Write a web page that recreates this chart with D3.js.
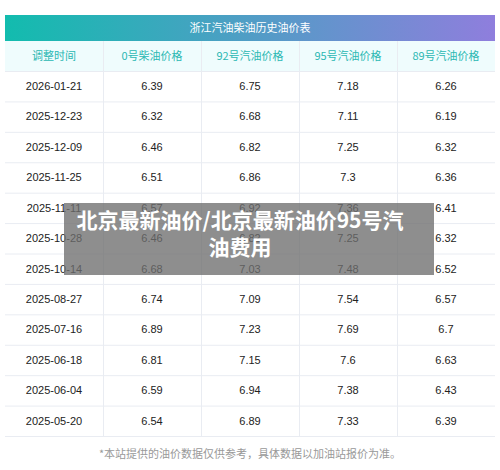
<!DOCTYPE html>
<html><head><meta charset="utf-8">
<script src="https://cdn.jsdelivr.net/npm/d3@7"></script>
<style>body{margin:0;background:#fff}</style>
</head><body>
<script>
var title = '浙江汽油柴油历史油价表';
var columns = ['调整时间', '0号柴油价格', '92号汽油价格', '95号汽油价格', '89号汽油价格'];
var dates = ['2026-01-21','2025-12-23','2025-12-09','2025-11-25','2025-11-11','2025-10-28','2025-10-14','2025-08-27','2025-07-16','2025-06-18','2025-06-04','2025-05-20'];
var diesel0 = ['6.39','6.32','6.46','6.51','6.57','6.46','6.68','6.74','6.89','6.81','6.59','6.54'];
var gas92 = ['6.75','6.68','6.82','6.86','6.92','6.82','7.03','7.09','7.23','7.15','6.94','6.89'];
var gas95 = ['7.18','7.11','7.25','7.3','7.36','7.25','7.48','7.54','7.69','7.6','7.38','7.33'];
var gas89 = ['6.26','6.19','6.32','6.36','6.41','6.32','6.52','6.57','6.7','6.63','6.43','6.39'];
var footnote = '*本站提供的油价数据仅供参考，具体数据以加油站报价为准。';
var overlay = ['北京最新油价/北京最新油价95号汽', '油费用'];

var W = 500, H = 470, left = 5, right = 495;
var font = '"Noto Sans CJK SC", "Liberation Sans", sans-serif';
var svg = d3.select('body').append('svg').attr('width', W).attr('height', H);

var defs = svg.append('defs');
var grad = defs.append('linearGradient').attr('id', 'hg');
grad.append('stop').attr('offset', '0%').attr('stop-color', '#12bcae');
grad.append('stop').attr('offset', '100%').attr('stop-color', '#8f7edd');

var x = d3.scaleBand().domain(d3.range(columns.length)).range([left, right]);
var rows = dates.map(function(d, i) { return [d, diesel0[i], gas92[i], gas95[i], gas89[i]]; });
var y = d3.scaleBand().domain(d3.range(rows.length)).range([71, 436]);

// title bar
svg.append('rect').attr('x', left).attr('y', 15).attr('width', right - left).attr('height', 26).attr('fill', 'url(#hg)');
svg.append('text').attr('x', W / 2).attr('y', 28).attr('dy', '0.35em').attr('text-anchor', 'middle')
  .attr('fill', '#fff').attr('font-size', 11).attr('font-family', font).text(title);

// column header
svg.append('rect').attr('x', left).attr('y', 41).attr('width', right - left).attr('height', 30).attr('fill', '#effcfd');
svg.selectAll('.ch').data(columns).enter().append('text')
  .attr('x', function(d, i) { return x(i) + x.bandwidth() / 2; }).attr('y', 56).attr('dy', '0.35em')
  .attr('text-anchor', 'middle').attr('fill', '#2bb8b3').attr('font-size', 11).attr('font-family', font)
  .text(function(d) { return d; });

// grid lines
svg.selectAll('.hl').data(d3.range(rows.length + 1)).enter().append('line')
  .attr('x1', left).attr('x2', right)
  .attr('y1', function(i) { return 71 + i * y.step() + 0.5; }).attr('y2', function(i) { return 71 + i * y.step() + 0.5; })
  .attr('stroke', '#e9ecf2');
svg.selectAll('.vl').data(d3.range(1, columns.length)).enter().append('line')
  .attr('x1', function(i) { return x(i) + 0.5; }).attr('x2', function(i) { return x(i) + 0.5; })
  .attr('y1', 41).attr('y2', 436).attr('stroke', '#e9ecf2');

// cells
var g = svg.selectAll('.row').data(rows).enter().append('g')
  .attr('transform', function(d, i) { return 'translate(0,' + (y(i) + y.bandwidth() / 2) + ')'; });
g.selectAll('text').data(function(d) { return d; }).enter().append('text')
  .attr('x', function(d, i) { return x(i) + x.bandwidth() / 2; }).attr('dy', '0.35em')
  .attr('text-anchor', 'middle').attr('fill', '#222').attr('font-size', 11).attr('font-family', '"Liberation Sans", sans-serif')
  .text(function(d) { return d; });

svg.append('text').attr('x', W / 2).attr('y', 454).attr('dy', '0.35em').attr('text-anchor', 'middle')
  .attr('fill', '#999').attr('font-size', 11).attr('font-family', font).text(footnote);

// overlay caption
svg.append('rect').attr('x', 64).attr('y', 203).attr('width', 370).attr('height', 72).attr('fill', 'rgba(110,110,110,0.78)');
svg.selectAll('.ov').data(overlay).enter().append('text')
  .attr('x', 240).attr('y', function(d, i) { return 221 + i * 27; }).attr('dy', '0.35em').attr('text-anchor', 'middle')
  .attr('fill', '#fff').attr('font-size', 21).attr('font-weight', 'bold').attr('font-family', font)
  .text(function(d) { return d; });
</script>
</body></html>
